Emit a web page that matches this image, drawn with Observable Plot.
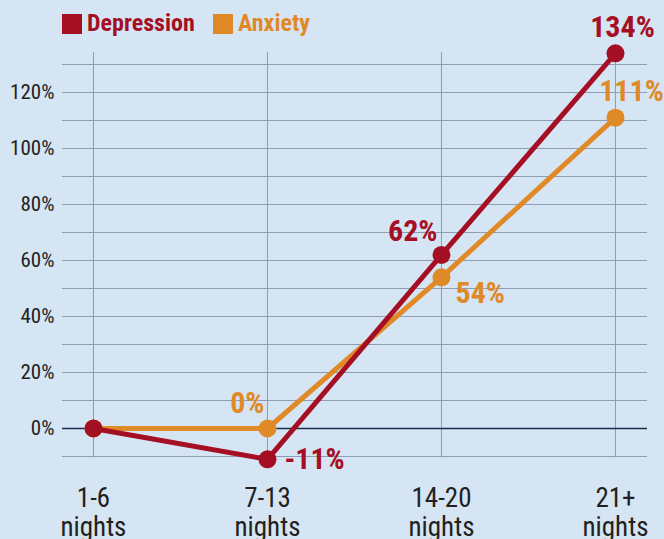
<!DOCTYPE html>
<html>
<head>
<meta charset="utf-8">
<script src="https://cdn.jsdelivr.net/npm/d3@7"></script>
<script src="https://cdn.jsdelivr.net/npm/@observablehq/plot@0.6"></script>
<style>
  html, body { margin: 0; padding: 0; background: #d5e5f4; }
  #wrap { position: relative; width: 664px; height: 539px; overflow: hidden; background: #d5e5f4;
          font-family: Roboto, "Open Sans", sans-serif; font-stretch: condensed; }
  #legend { position: absolute; left: 0; top: 0; width: 664px; height: 46px; }
  .sw { position: absolute; top: 14px; width: 20px; height: 20px; }
  .lt { position: absolute; top: 10px; font-weight: bold; font-size: 24px; line-height: 26px; }
  #chart { position: absolute; left: 0; top: 46px; }
  #chart svg { overflow: visible; }
</style>
</head>
<body>
<div id="wrap">
  <div id="legend">
    <div class="sw" style="left:62px;background:#a50f24"></div>
    <div class="lt" style="left:87px;color:#a50f24">Depression</div>
    <div class="sw" style="left:213px;background:#e08a27"></div>
    <div class="lt" style="left:238px;color:#e08a27">Anxiety</div>
  </div>
  <div id="chart"></div>
</div>
<script>
const categories = ["1-6\nnights", "7-13\nnights", "14-20\nnights", "21+\nnights"];
const depression = [0, -11, 62, 134];
const anxiety = [0, 0, 54, 111];
const yTicks = [0, 20, 40, 60, 80, 100, 120];
const gridLines = [-10, 0, 10, 20, 30, 40, 50, 60, 70, 80, 90, 100, 110, 120, 130];

const RED = "#a50f24", ORANGE = "#e08a27", GRID = "#8e9db5";
const dep = depression.map((v, i) => ({i, v}));
const anx = anxiety.map((v, i) => ({i, v}));

const lbl = (data, idx, color, opts) => Plot.text(data.filter(d => d.i === idx), {
  x: "i", y: "v", text: d => d.v + "%", fill: color, fontWeight: "bold", fontSize: 30, ...opts
});

const chart = Plot.plot({
  width: 664,
  height: 493,
  marginTop: 18,
  marginBottom: 83,
  marginLeft: 62,
  marginRight: 17,
  style: {background: "#d5e5f4", fontFamily: "Roboto, 'Open Sans', sans-serif", fontStretch: "condensed", color: "#231f20", overflow: "visible"},
  x: {type: "linear", domain: [-0.178, 3.184]},
  y: {domain: [-10, 130]},
  marks: [
    Plot.ruleY(gridLines, {stroke: GRID, strokeWidth: 1}),
    Plot.ruleX(categories.map((c, i) => i), {y1: -10.5, y2: 134.3, stroke: GRID, strokeWidth: 1}),
    Plot.ruleY([0], {stroke: "#1b2b4b", strokeWidth: 1.5}),
    Plot.axisY(yTicks, {tickSize: 0, tickPadding: 8, tickFormat: d => d + "%", fontSize: 21, label: null}),
    Plot.axisX([0, 1, 2, 3], {tickSize: 0, tickPadding: 29, tickFormat: i => categories[i], fontSize: 27, lineHeight: 1.1, label: null}),
    Plot.line(anx, {x: "i", y: "v", stroke: ORANGE, strokeWidth: 5}),
    Plot.dot(anx, {x: "i", y: "v", r: 9, fill: ORANGE}),
    Plot.line(dep, {x: "i", y: "v", stroke: RED, strokeWidth: 5}),
    Plot.dot(dep, {x: "i", y: "v", r: 9, fill: RED}),
    lbl(dep, 3, RED, {dx: 7, dy: -26}),
    lbl(anx, 3, ORANGE, {dx: 16, dy: -26}),
    lbl(dep, 2, RED, {textAnchor: "end", dx: -4, dy: -24}),
    lbl(anx, 2, ORANGE, {textAnchor: "start", dx: 14, dy: 16}),
    lbl(anx, 1, ORANGE, {textAnchor: "end", dx: -3, dy: -25}),
    lbl(dep, 1, RED, {textAnchor: "start", dx: 17, dy: 0})
  ]
});
document.getElementById("chart").appendChild(chart);
</script>
</body>
</html>
